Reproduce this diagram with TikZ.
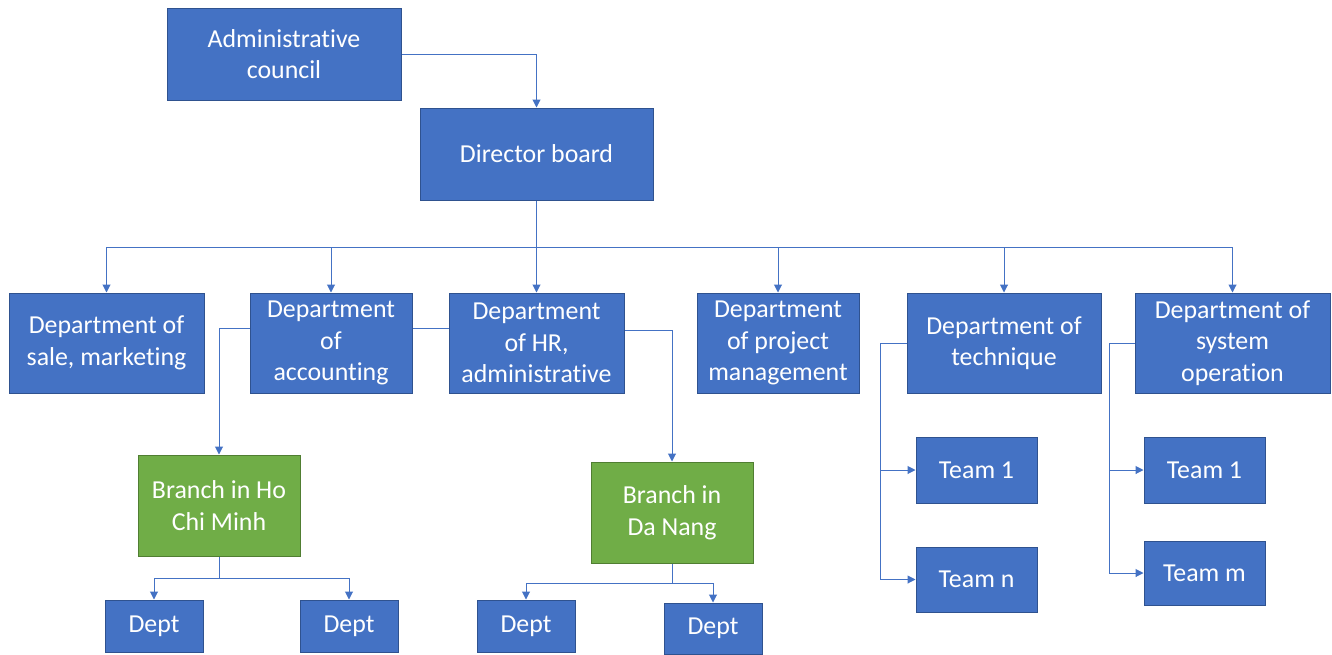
\documentclass[tikz,border=0pt]{standalone}
\usepackage{fontspec}
\setmainfont{Carlito}[Ligatures=NoCommon]
\usetikzlibrary{arrows.meta,backgrounds,calc}
\definecolor{boxblue}{HTML}{4472C4}
\definecolor{boxedge}{HTML}{2F528F}
\definecolor{boxgreen}{HTML}{70AD47}
\definecolor{greenedge}{HTML}{507E32}
\definecolor{linkblue}{HTML}{4472C4}
\tikzset{
  box/.style={draw=boxedge, fill=boxblue, text=white, align=center, inner sep=0pt,
    line width=0.75pt, font=\fontsize{19.4}{23.6}\selectfont},
  branch/.style={box, draw=greenedge, fill=boxgreen},
  sz/.style 2 args={minimum width=#1*0.75pt, minimum height=#2*0.75pt},
  wire/.style={draw=linkblue, line width=0.75pt},
  link/.style={wire, -{Triangle[length=6pt,width=6pt]}}
}
\begin{document}
\begin{tikzpicture}[x=0.75pt, y=-0.75pt]
\useasboundingbox (0,0) rectangle (1332,654);
% top of the chart
\node (council) at (284,54) [box, sz={234}{92}] {Administrative\\council};
\node (director) at (536.5,154) [box, sz={233}{92}] {Director board};
% departments
\node (sale) at (106.5,343) [box, sz={195}{100}] {Department of\\sale, marketing};
\node (accounting) at (331,343) [box, sz={162}{100}] {Department\\of\\accounting};
\node (hr) at (536.5,343) [box, sz={175}{100}] {Department\\of HR,\\administrative};
\node (project) at (778,343) [box, sz={162}{100}] {Department\\of project\\management};
\node (technique) at (1004,343) [box, sz={194}{100}] {Department of\\technique};
\node (system) at (1232.5,343) [box, sz={195}{100}] {Department of\\system\\operation};
% branches
\node (hcm) at (219,505.5) [branch, sz={162}{101}] {Branch in Ho\\Chi Minh};
\node (danang) at (672,512.5) [branch, sz={162}{101}] {Branch in\\Da Nang};
\node (hcm1) at (154,626) [box, sz={98}{52}] {Dept};
\node (hcm2) at (349,626) [box, sz={98}{52}] {Dept};
\node (dn1) at (526,626) [box, sz={98}{52}] {Dept};
\node (dn2) at (713,628.5) [box, sz={98}{51}] {Dept};
% teams
\node (tech1) at (976.5,470) [box, sz={121}{66}] {Team 1};
\node (techn) at (976.5,579.5) [box, sz={121}{65}] {Team n};
\node (sys1) at (1204.5,470) [box, sz={121}{66}] {Team 1};
\node (sysm) at (1204.5,573) [box, sz={121}{64}] {Team m};
\begin{scope}[on background layer]
\draw[link] (council.east) -| (director.north);
\coordinate (bus) at ($(director.south)+(0,47)$);
\draw[wire] (director.south) -- (bus);
\foreach \d in {sale,accounting,hr,project,technique,system}
  \draw[link] (bus) -| (\d.north);
\draw[link] ($(hr.west)+(0,-15)$) -| (hcm.north);
\draw[link] ($(hr.east)+(0,-13)$) -| (danang.north);
\coordinate (hcmbus) at ($(hcm.south)+(0,22)$);
\draw[wire] (hcm.south) -- (hcmbus);
\foreach \d in {hcm1,hcm2} \draw[link] (hcmbus) -| (\d.north);
\coordinate (dnbus) at ($(danang.south)+(0,20)$);
\draw[wire] (danang.south) -- (dnbus);
\foreach \d in {dn1,dn2} \draw[link] (dnbus) -| (\d.north);
\foreach \t in {tech1,techn} \draw[link] (technique.west) -- ++(-26,0) |- (\t.west);
\foreach \t in {sys1,sysm} \draw[link] (system.west) -- ++(-25,0) |- (\t.west);
\end{scope}
\end{tikzpicture}
\end{document}
